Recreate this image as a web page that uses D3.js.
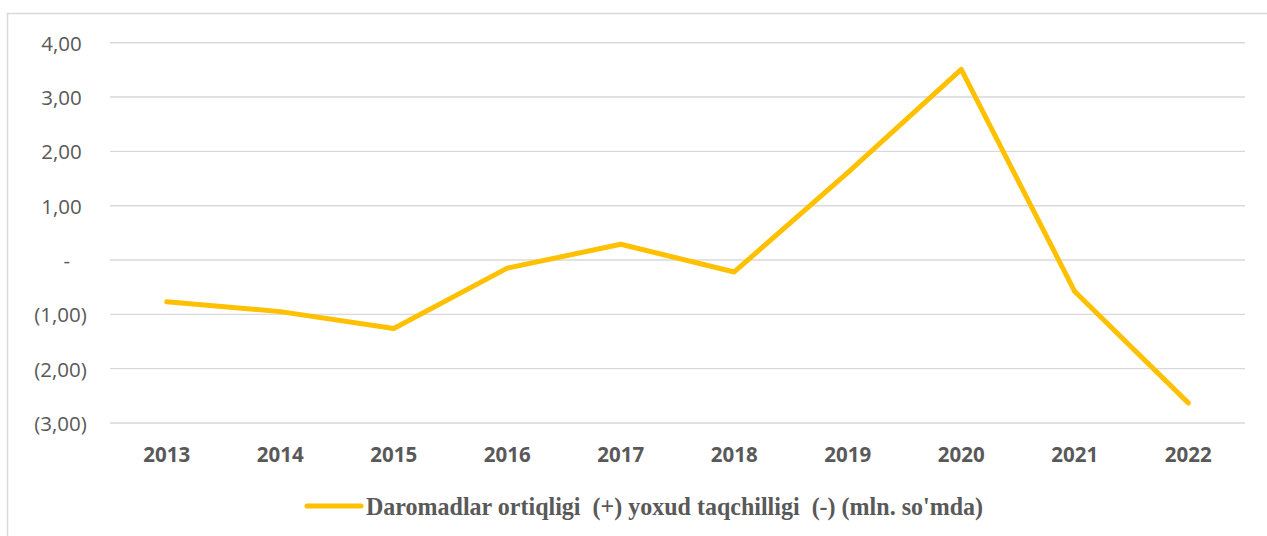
<!DOCTYPE html>
<html>
<head>
<meta charset="utf-8">
<script src="https://cdn.jsdelivr.net/npm/d3@7"></script>
<style>
  body { margin: 0; background: #fff; }
  #chart_holder { width: 1267px; height: 536px; }
  .grid line { stroke: #d9d9d9; stroke-width: 1.4; }
  .tick text { fill: #595959; }
</style>
</head>
<body>
<div id="chart_holder"></div>
<script>
// years on the x axis
var years = ["2013", "2014", "2015", "2016", "2017", "2018", "2019", "2020", "2021", "2022"];
// surplus (+) or deficit (-), mln. so'm
var balance = [-0.77, -0.95, -1.26, -0.15, 0.29, -0.22, 1.61, 3.51, -0.58, -2.63];
// y ticks
var yTicks = [4, 3, 2, 1, 0, -1, -2, -3];
var seriesName = "Daromadlar ortiqligi  (+) yoxud taqchilligi  (-) (mln. so'mda)";

var width = 1267, height = 536;
var plot = { left: 110, right: 1245, top: 42.7, bottom: 423 };

var svg = d3.select("#chart_holder").append("svg")
	.attr("width", width)
	.attr("height", height);

// outer frame, only top and left show in the picture
svg.append("rect")
	.attr("x", 7.5).attr("y", 13.5)
	.attr("width", 1300).attr("height", 600)
	.attr("fill", "none")
	.attr("stroke", "#d9d9d9")
	.attr("stroke-width", 1.5);

var x = d3.scaleBand().domain(years).range([plot.left, plot.right]);
var y = d3.scaleLinear().domain([-3, 4]).range([plot.bottom, plot.top]);

// excel accounting style labels: (1,00) for negatives, "-" for zero
function fmt(d) {
	var s = Math.abs(d).toFixed(2).replace(".", ",");
	if (d === 0) return "-";
	return d < 0 ? "(" + s + ")" : s;
}

// gridlines
svg.append("g").attr("class", "grid")
	.selectAll("line")
	.data(yTicks)
	.enter().append("line")
		.attr("x1", plot.left).attr("x2", plot.right)
		.attr("y1", function(d) { return y(d); })
		.attr("y2", function(d) { return y(d); });

// y axis, no domain line, no tick marks
var yAxis = svg.append("g")
	.attr("transform", "translate(" + plot.left + ",0)")
	.call(d3.axisLeft(y).tickValues(yTicks).tickSize(0).tickFormat(fmt));
yAxis.select(".domain").remove();
yAxis.selectAll(".tick text")
	.attr("font-family", "'Open Sans', sans-serif")
	.attr("font-size", "20.5px")
	.attr("dy", "0.36em")
	.attr("x", function(d) {
		// positives leave room for the ")" like excel does
		if (d === 0) return -40;
		return d < 0 ? -23.3 : -28.3;
	});

// x axis labels
var xAxis = svg.append("g")
	.attr("transform", "translate(0," + plot.bottom + ")")
	.call(d3.axisBottom(x).tickSize(0));
xAxis.select(".domain").remove();
xAxis.selectAll(".tick text")
	.attr("font-family", "'Open Sans', sans-serif")
	.attr("font-size", "20.5px")
	.attr("font-weight", "bold")
	.attr("dy", 0)
	.attr("y", 39);

// the line
var line = d3.line()
	.x(function(d, i) { return x(years[i]) + x.bandwidth() / 2; })
	.y(function(d) { return y(d); });

svg.append("path")
	.datum(balance)
	.attr("d", line)
	.attr("fill", "none")
	.attr("stroke", "#ffc000")
	.attr("stroke-width", 5)
	.attr("stroke-linejoin", "round")
	.attr("stroke-linecap", "round");

// legend
var legend = svg.append("g").attr("transform", "translate(0,506)");
legend.append("line")
	.attr("x1", 307).attr("x2", 361)
	.attr("stroke", "#ffc000")
	.attr("stroke-width", 5)
	.attr("stroke-linecap", "round");
legend.append("text")
	.attr("x", 366)
	.attr("y", 8.5)
	.attr("font-family", "'Liberation Serif', 'Times New Roman', serif")
	.attr("font-weight", "bold")
	.attr("font-size", "25.5px")
	.attr("fill", "#595959")
	.attr("textLength", 617)
	.attr("lengthAdjust", "spacingAndGlyphs")
	.style("white-space", "pre")
	.text(seriesName);
</script>
</body>
</html>
